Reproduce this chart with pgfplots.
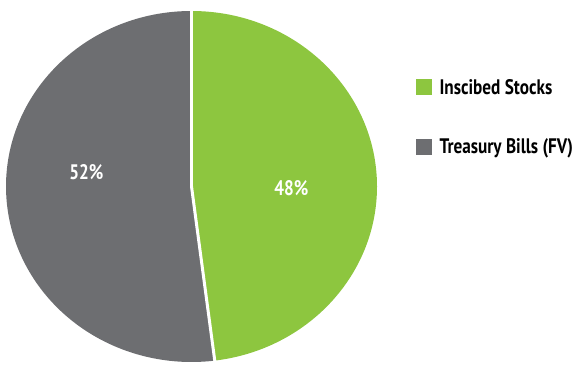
\documentclass[border=0pt]{standalone}
\usepackage{pgfplots}
\pgfplotsset{compat=1.18}
\usepackage{pgfplotstable}
\usepackage{fontspec}
\setmainfont{PT Sans}
\newfontfamily\condfont[FakeStretch=0.82]{PT Sans}
\definecolor{pgreen}{HTML}{8DC63F}
\definecolor{pgray}{HTML}{6D6E71}

% value, label x, label y (axis units)
\pgfplotstableread{
name value lx ly
Stocks 48 0.538 -0.012
Bills 52 -0.567 0.080
}\piedata

\begin{document}
\begin{tikzpicture}
\useasboundingbox (0pt,0pt) rectangle (572pt,365pt);
\begin{axis}[
  hide axis,
  x=185.5pt, y=175.5pt,
  xmin=-1, xmax=1, ymin=-1, ymax=1,
  scale only axis,
  anchor=origin,
  at={(191.5pt,178.5pt)},
  clip=false,
  legend style={draw=none, fill=none, inner sep=0pt, at={(1.105,0.806)}, anchor=north west,
    row sep=44pt, column sep=8pt, font=\condfont\bfseries\fontsize{21pt}{21pt}\selectfont,
    nodes={inner sep=0pt, text height=15pt, text depth=0pt, anchor=base west}},
  legend image code/.code={\fill[#1] (0pt,0pt) rectangle (15pt,15pt);},
]
\pgfplotstablegetelem{0}{value}\of\piedata \pgfmathsetmacro\va{\pgfplotsretval}
\pgfplotstablegetelem{1}{value}\of\piedata \pgfmathsetmacro\vb{\pgfplotsretval}
\pgfmathsetmacro\fa{\va/(\va+\vb)}
\pgfmathsetmacro\enda{90-360*\fa}
\addlegendimage{pgreen}
\addlegendentry{Inscibed Stocks}
\addlegendimage{pgray}
\addlegendentry{Treasury Bills (FV)}
% green sector (clockwise from top)
\fill[pgreen] (axis cs:0,0) -- (axis cs:0,1) arc[start angle=90, end angle=\enda, x radius=185.5pt, y radius=175.5pt] -- cycle;
% gray sector
\fill[pgray] (axis cs:0,0) -- (axis cs:0,1) arc[start angle=90, end angle=\enda+360, x radius=185.5pt, y radius=175.5pt] -- cycle;
% separators
\draw[white, line width=3pt] (axis cs:0,0) -- (axis cs:0,1.01);
\draw[white, line width=3pt] (axis cs:0,0) -- (axis cs:{1.01*cos(\enda)},{1.01*sin(\enda)});
% labels
\pgfplotstablegetelem{0}{lx}\of\piedata \let\lxa\pgfplotsretval
\pgfplotstablegetelem{0}{ly}\of\piedata \let\lya\pgfplotsretval
\pgfplotstablegetelem{1}{lx}\of\piedata \let\lxb\pgfplotsretval
\pgfplotstablegetelem{1}{ly}\of\piedata \let\lyb\pgfplotsretval
\node[white, font=\condfont\bfseries\fontsize{21pt}{21pt}\selectfont] at (axis cs:\lxa,\lya) {48\%};
\node[white, font=\condfont\bfseries\fontsize{21pt}{21pt}\selectfont] at (axis cs:\lxb,\lyb) {52\%};
\end{axis}
\end{tikzpicture}
\end{document}
